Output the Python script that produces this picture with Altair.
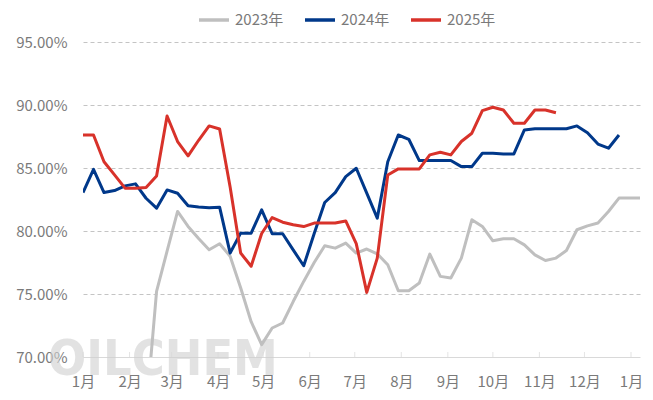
import altair as alt
import pandas as pd

FONT = "Noto Sans CJK SC"
TEXT_COLOR = "#7a7a7a"

# weekly grid (common reference year)
weeks = pd.date_range("2025-01-01", periods=54, freq="7D").strftime("%Y-%m-%d").tolist()

series_names = ["2023年", "2024年", "2025年"]
series_colors = ["#bfbfbf", "#00388a", "#d8322a"]
series_start = [6, 0, 0]  # first week index of each series

y2023 = [65.5, 75.2, 78.4, 81.55, 80.36, 79.4, 78.51, 78.99, 78.0, 75.5,
         72.8, 70.98, 72.3, 72.7, 74.4, 76.0, 77.5, 78.83, 78.64, 79.04,
         78.25, 78.57, 78.19, 77.32, 75.26, 75.26, 75.87, 78.17, 76.4, 76.27,
         77.85, 80.89, 80.36, 79.22, 79.38, 79.38, 78.9, 78.11, 77.66, 77.85,
         78.45, 80.1, 80.41, 80.63, 81.55, 82.61, 82.61, 82.61]
y2024 = [83.05, 84.9, 83.05, 83.21, 83.58, 83.74, 82.6, 81.81, 83.26, 83.0,
         82.0, 81.9, 81.85, 81.89, 78.25, 79.83, 79.83, 81.68, 79.78, 79.78,
         78.5, 77.24, 79.8, 82.26, 83.05, 84.32, 84.98, 83.0, 81.02, 85.5,
         87.62, 87.28, 85.59, 85.59, 85.59, 85.59, 85.11, 85.11, 86.17, 86.17,
         86.12, 86.12, 88.02, 88.12, 88.12, 88.12, 88.12, 88.34, 87.8, 86.9,
         86.57, 87.62]
y2025 = [87.62, 87.62, 85.5, 84.45, 83.4, 83.4, 83.45, 84.37, 89.13, 87.1,
         85.96, 87.2, 88.34, 88.1, 83.5, 78.25, 77.2, 79.8, 81.07, 80.7,
         80.5, 80.35, 80.63, 80.63, 80.63, 80.8, 79.0, 75.13, 77.85, 84.45,
         84.93, 84.93, 84.93, 86.04, 86.25, 86.04, 87.1, 87.76, 89.55, 89.82,
         89.6, 88.55, 88.55, 89.6, 89.6, 89.39]

y_ticks = [70, 75, 80, 85, 90, 95]
month_ticks = [f"2025-{m:02d}-01" for m in range(1, 13)] + ["2026-01-01"]

rows = []
for name, start, vals in zip(series_names, series_start, [y2023, y2024, y2025]):
    for i, v in enumerate(vals):
        rows.append({"date": weeks[start + i], "rate": v, "year": name})
df = pd.DataFrame(rows)

x_domain = [alt.DateTime(year=2025, month=1, date=1, utc=True),
            alt.DateTime(year=2026, month=1, date=7, utc=True)]
x_values = [alt.DateTime(year=2025, month=m, date=1, utc=True) for m in range(1, 13)] + \
           [alt.DateTime(year=2026, month=1, date=1, utc=True)]

x_scale = alt.Scale(type="utc", domain=x_domain)
y_scale = alt.Scale(domain=[70, 95], nice=False, zero=False)

x_axis = alt.Axis(values=x_values, labelExpr="(utcmonth(datum.value)+1) + '月'",
                  ticks=False, grid=False, domainColor="#d9d9d9", domainWidth=1,
                  labelFontSize=15, labelColor=TEXT_COLOR, labelFont=FONT,
                  labelPadding=17, labelFlush=False, labelOverlap=False, title=None)
y_axis = alt.Axis(values=y_ticks, labelExpr="format(datum.value, '.2f') + '%'",
                  ticks=False, domain=False, grid=True, gridDash=[4, 3],
                  gridColor="#c4c4c4", gridWidth=1,
                  gridOpacity={"condition": {"test": "datum.value === 70", "value": 0}, "value": 1},
                  labelFontSize=15, labelColor=TEXT_COLOR, labelFont=FONT,
                  labelPadding=16, title=None)

watermark = alt.Chart(pd.DataFrame({"t": ["OILCHEM"]})).mark_text(
    font="Liberation Sans Narrow, DejaVu Sans Condensed, sans-serif",
    fontSize=50, fontWeight="bold", color="#d0d0d0", opacity=0.6,
    align="center", baseline="alphabetic"
).encode(text="t:N", x=alt.value(80), y=alt.value(333))

ticks = alt.Chart(pd.DataFrame({"date": month_ticks})).mark_tick(
    orient="vertical", size=5, thickness=1, color="#d9d9d9", yOffset=-2.5
).encode(x=alt.X("date:T", scale=x_scale, axis=x_axis), y=alt.datum(70))

lines = alt.Chart(df).mark_line(strokeWidth=3, clip=True, strokeJoin="round").encode(
    x=alt.X("date:T", scale=x_scale, axis=x_axis),
    y=alt.Y("rate:Q", scale=y_scale, axis=y_axis),
    color=alt.Color("year:N", scale=alt.Scale(domain=series_names, range=series_colors),
                    legend=alt.Legend(title=None, orient="none", legendX=114, legendY=-39,
                                      direction="horizontal", symbolType="stroke",
                                      symbolSize=900, symbolStrokeWidth=3.5,
                                      labelFontSize=15, labelColor=TEXT_COLOR, labelFont=FONT,
                                      columnPadding=14, labelOffset=4, padding=0)),
)

chart = alt.layer(watermark, ticks, lines).properties(
    width=557, height=315,
    padding={"left": 75, "top": 34, "right": 5, "bottom": 35},
    autosize=alt.AutoSizeParams(type="none"),
).configure_view(stroke=None)

chart.save("out.html", embed_options={"renderer": "svg", "actions": False})
